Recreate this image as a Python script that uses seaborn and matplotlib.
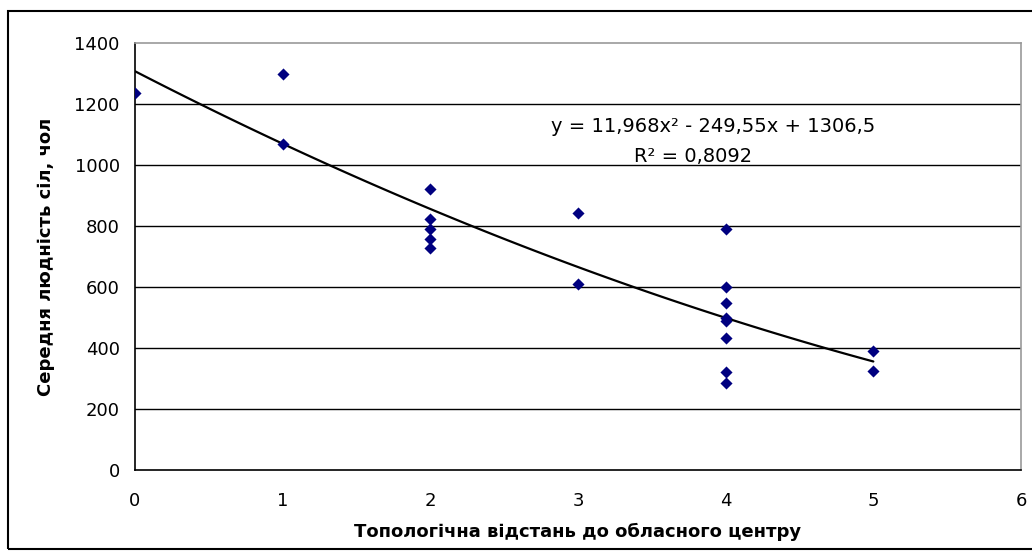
import numpy as np
import pandas as pd
import matplotlib.pyplot as plt
import seaborn as sns
from matplotlib.patches import Rectangle

# values
distance = [0, 1, 1, 2, 2, 2, 2, 2, 3, 3, 4, 4, 4, 4, 4, 4, 4, 4, 5, 5]
population = [1235, 1300, 1070, 921, 823, 790, 757, 728, 843, 610,
              790, 600, 548, 500, 490, 433, 321, 285, 390, 325]
x_ticks = [0, 1, 2, 3, 4, 5, 6]
y_ticks = [0, 200, 400, 600, 800, 1000, 1200, 1400]
eq_text = "y = 11,968x\u00b2 - 249,55x + 1306,5"
r2_text = "R\u00b2 = 0,8092"

df = pd.DataFrame({"x": distance, "y": population})

sns.set_style("white")
plt.rcParams['font.family'] = ['DejaVu Sans']
plt.rcParams['text.color'] = 'black'
plt.rcParams['axes.labelcolor'] = 'black'
plt.rcParams['xtick.color'] = 'black'
plt.rcParams['ytick.color'] = 'black'

fig = plt.figure(figsize=(10.32, 5.58), dpi=100)
ax = fig.add_axes([135 / 1032, 1 - 470 / 558, (1021 - 135) / 1032, (470 - 43) / 558])

# quadratic trend line (fit by seaborn)
sns.regplot(data=df, x="x", y="y", order=2, ci=None, scatter=False,
            line_kws={"color": "black", "lw": 1.6}, ax=ax)
sns.scatterplot(data=df, x="x", y="y", marker="D", s=38, color="#000080",
                edgecolor="#000080", linewidth=0, zorder=5, ax=ax)

ax.set_xlim(0, 6)
ax.set_ylim(0, 1400)
ax.set_xticks(x_ticks)
ax.set_yticks(y_ticks)
ax.tick_params(axis="both", direction="out", length=5, width=1, color="black",
               labelsize=13, labelcolor="black", pad=6)
ax.tick_params(axis="x", pad=11)

for v in y_ticks[1:-1]:
    ax.axhline(v, color="black", lw=1, zorder=1)

for side in ["left", "bottom"]:
    ax.spines[side].set_color("black")
    ax.spines[side].set_linewidth(1.2)
for side in ["top", "right"]:
    ax.spines[side].set_color("#999999")
    ax.spines[side].set_linewidth(1.2)

ax.set_xlabel("Топологічна відстань до обласного центру", fontsize=13,
              fontweight="bold", labelpad=9)
ax.set_ylabel("Середня людність сіл, чол", fontsize=13, fontweight="bold",
              labelpad=14)

ax.text(713 / 1032, 1 - 127 / 558, eq_text, transform=fig.transFigure,
        ha="center", va="center", fontsize=14)
ax.text(693 / 1032, 1 - 157 / 558, r2_text, transform=fig.transFigure,
        ha="center", va="center", fontsize=14)

# outer chart frame
fig.patches.append(Rectangle((8 / 1032, 1 - 549 / 558), 1.1, (549 - 11) / 558,
                             transform=fig.transFigure, fill=False,
                             edgecolor="black", lw=1.5))

fig.savefig("out.png", dpi=100)
